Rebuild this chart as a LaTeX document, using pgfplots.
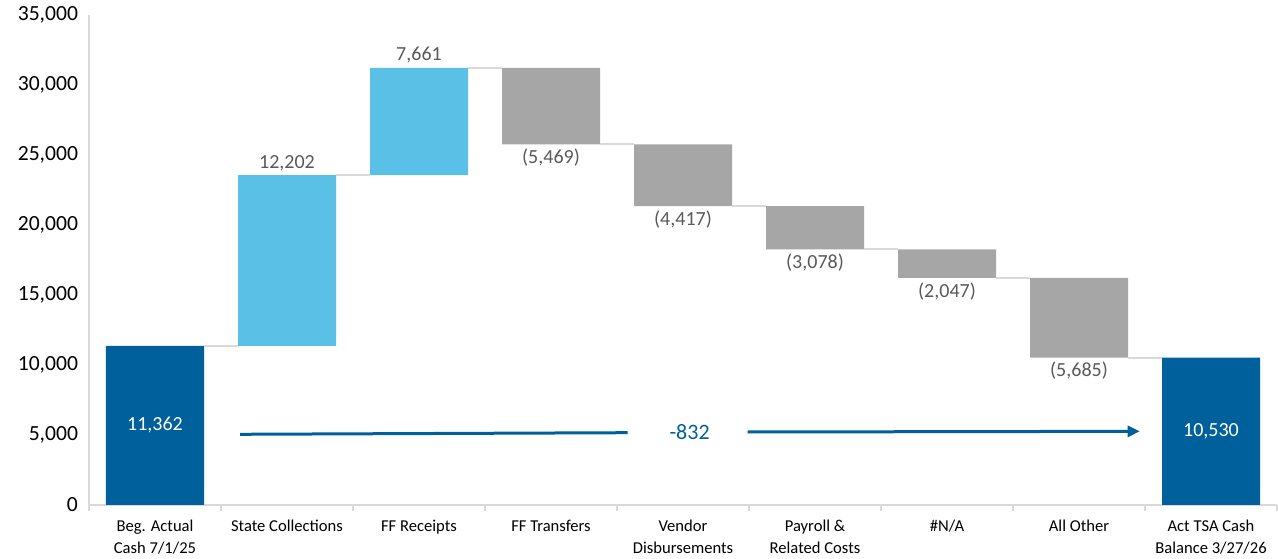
\documentclass[border=0pt]{standalone}
\usepackage{fontspec}
\setmainfont{Carlito}
\usepackage{pgfplots}
\pgfplotsset{compat=1.18}
\usetikzlibrary{arrows.meta}
\definecolor{dkblue}{HTML}{00609C}
\definecolor{ltblue}{HTML}{5BC0E6}
\definecolor{gbar}{HTML}{A6A6A6}
\definecolor{glab}{HTML}{595959}
\definecolor{gline}{HTML}{D9D9D9}
\pgfplotsset{
  common/.style={
    scale only axis, width=594pt, height=245pt,
    xmin=-0.5, xmax=8.5, ymin=0, ymax=35000,
  }
}
\begin{document}
\begin{tikzpicture}
\begin{axis}[
  common, name=main,
  axis x line=bottom, axis y line=left,
  axis line style={draw=gline, line width=0.7pt, -},
  ytick={0,5000,...,35000},
  scaled y ticks=false,
  /pgf/number format/assume math mode=true,
  /pgf/number format/1000 sep={,},
  yticklabel style={font=\fontsize{10.8}{13}\selectfont, text=black, xshift=1pt},
  ytick style={draw=none},
  xtick={-0.5,0.5,...,8.5},
  x tick label as interval,
  xticklabels={{Beg. Actual\\Cash 7/1/25},{State Collections},{FF Receipts},{FF Transfers},{Vendor\\Disbursements},{Payroll \&\\Related Costs},{\#N/A},{All Other},{Act TSA Cash\\Balance 3/27/26}},
  xticklabel style={align=center, font=\fontsize{8.3}{11}\selectfont, text=black, yshift=-1pt},
  xtick style={draw=gline, line width=0.7pt},
  tick align=outside,
  major tick length=3pt,
  ybar stacked, bar width=49pt,
]
\addplot[fill=none, draw=none] coordinates {(0,0) (1,11362) (2,23564) (3,25756) (4,21339) (5,18261) (6,16214) (7,10529) (8,0)};
\addplot[fill=dkblue, draw=none] coordinates {(0,11362) (1,0) (2,0) (3,0) (4,0) (5,0) (6,0) (7,0) (8,10530)};
\addplot[fill=ltblue, draw=none] coordinates {(0,0) (1,12202) (2,7661) (3,0) (4,0) (5,0) (6,0) (7,0) (8,0)};
\addplot[fill=gbar, draw=none] coordinates {(0,0) (1,0) (2,0) (3,5469) (4,4417) (5,3078) (6,2047) (7,5685) (8,0)};
\end{axis}
\begin{axis}[common, hide axis, clip=false]
% connectors
\addplot[gline, line width=1pt] coordinates {(0.371,11362) (0.629,11362)};
\addplot[gline, line width=1pt] coordinates {(1.371,23564) (1.629,23564)};
\addplot[gline, line width=1pt] coordinates {(2.371,31225) (2.629,31225)};
\addplot[gline, line width=1pt] coordinates {(3.371,25756) (3.629,25756)};
\addplot[gline, line width=1pt] coordinates {(4.371,21339) (4.629,21339)};
\addplot[gline, line width=1pt] coordinates {(5.371,18261) (5.629,18261)};
\addplot[gline, line width=1pt] coordinates {(6.371,16214) (6.629,16214)};
\addplot[gline, line width=1pt] coordinates {(7.371,10529) (7.629,10529)};
% labels above
\addplot[draw=none, mark=none, nodes near coords, point meta=explicit symbolic,
  nodes near coords style={anchor=south, text=glab, inner sep=2pt, font=\fontsize{10}{12}\selectfont}]
  table[meta=label] {
x y label
1 23564 12,202
2 31225 7,661
};
% labels below
\addplot[draw=none, mark=none, nodes near coords, point meta=explicit symbolic,
  nodes near coords style={anchor=north, text=glab, inner sep=2pt, font=\fontsize{10}{12}\selectfont}]
  table[meta=label] {
x y label
3 25756 (5,469)
4 21339 (4,417)
5 18261 (3,078)
6 16214 (2,047)
7 10529 (5,685)
};
% labels inside
\addplot[draw=none, mark=none, nodes near coords, point meta=explicit symbolic,
  nodes near coords style={anchor=center, text=white, inner sep=0pt, font=\fontsize{10}{12}\selectfont}]
  table[meta=label] {
x y label
0 5681 11,362
8 5265 10,530
};
% arrow
\addplot[dkblue, line width=1.5pt] coordinates {(0.644,5050) (3.58,5164)};
\addplot[dkblue, line width=1.5pt, -{Triangle[length=6pt,width=5.5pt]}] coordinates {(4.49,5214) (7.46,5262)};
\addplot[draw=none, mark=none, nodes near coords, point meta=explicit symbolic,
  nodes near coords style={anchor=center, text=dkblue, inner sep=0pt, font=\fontsize{11}{13}\selectfont}]
  table[meta=label] {
x y label
4.05 5190 -832
};
\end{axis}
\pgfresetboundingbox
\path ([xshift=-44.5pt,yshift=-27pt]main.south west) rectangle ([xshift=0.5pt,yshift=7.5pt]main.north east);
\end{tikzpicture}
\end{document}
